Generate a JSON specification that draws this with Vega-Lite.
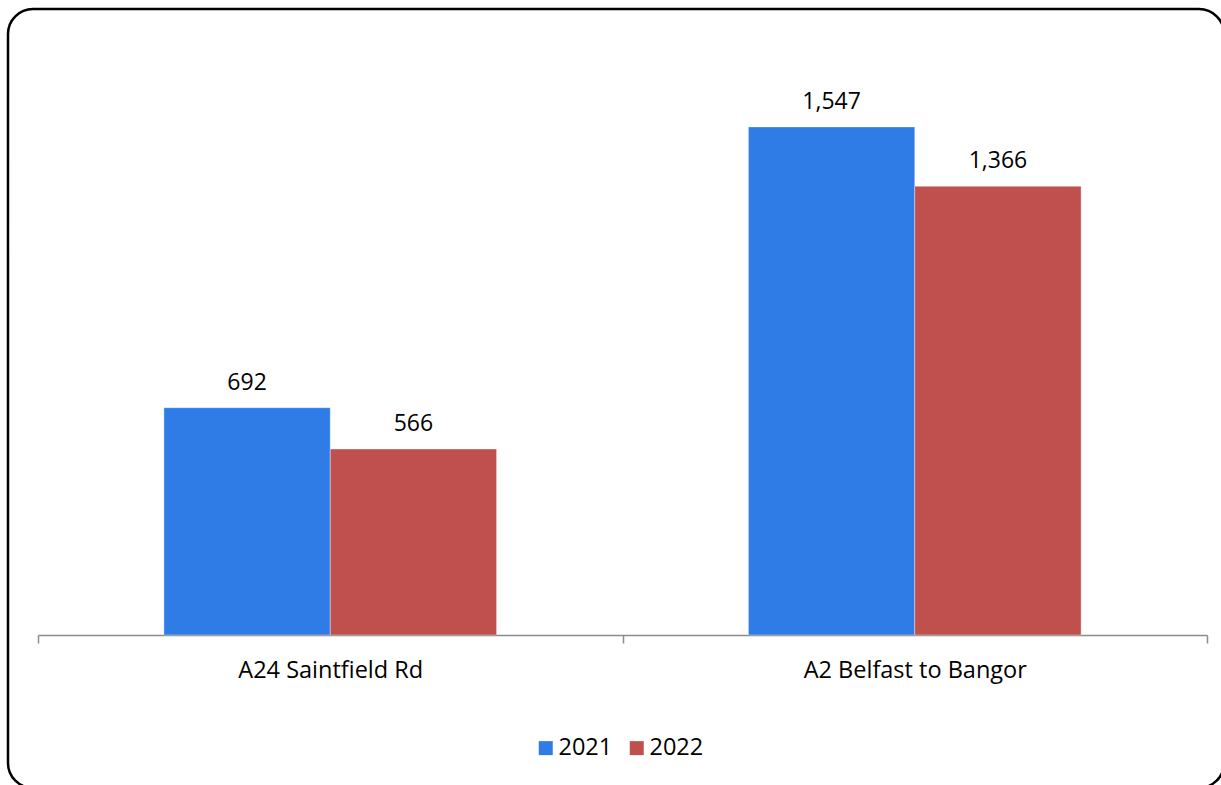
{
  "$schema": "https://vega.github.io/schema/vega-lite/v6.json",
  "autosize": {"type": "none"},
  "padding": {"left": 8, "top": 9, "right": 0, "bottom": 0},
  "width": 1216,
  "height": 779,
  "background": "white",
  "config": {
    "view": {"stroke": "black", "strokeWidth": 2.5, "cornerRadius": 25},
    "font": "Open Sans"
  },
  "data": {
    "values": [
      {"road": "A24 Saintfield Rd", "year": "2021", "value": 692},
      {"road": "A24 Saintfield Rd", "year": "2022", "value": 566},
      {"road": "A2 Belfast to Bangor", "year": "2021", "value": 1547},
      {"road": "A2 Belfast to Bangor", "year": "2022", "value": 1366}
    ]
  },
  "encoding": {
    "x": {
      "field": "road",
      "type": "nominal",
      "sort": null,
      "scale": {"paddingInner": 0, "paddingOuter": 0, "range": [30, 1199]},
      "axis": {
        "title": null,
        "labelAngle": 0,
        "offset": -153,
        "tickBand": "extent",
        "domainColor": "#8c8c8c",
        "domainWidth": 1.5,
        "tickColor": "#8c8c8c",
        "tickWidth": 1.5,
        "tickSize": 8,
        "labelFontSize": 23.5,
        "labelLimit": 0,
        "labelColor": "black",
        "labelPadding": 15,
        "labelFont": "Open Sans"
      }
    },
    "xOffset": {
      "field": "year",
      "type": "nominal",
      "scale": {"paddingInner": 0, "paddingOuter": 0.757}
    },
    "y": {
      "field": "value",
      "type": "quantitative",
      "scale": {"domain": [-466, 1906], "nice": false, "zero": false},
      "axis": null
    }
  },
  "layer": [
    {
      "mark": {"type": "bar", "stroke": "white", "strokeWidth": 0.6, "strokeOpacity": 0.6},
      "encoding": {
        "color": {
          "field": "year",
          "type": "nominal",
          "scale": {"domain": ["2021", "2022"], "range": ["#2F7CE7", "#C0504D"]},
          "legend": {
            "title": null,
            "orient": "none",
            "direction": "horizontal",
            "legendX": 526,
            "legendY": 727,
            "symbolType": "square",
            "symbolSize": 196,
            "symbolStrokeWidth": 0,
            "labelFontSize": 23.5,
            "labelColor": "black",
            "labelFont": "Open Sans",
            "columnPadding": 12,
            "labelOffset": 1,
            "padding": 0
          }
        }
      }
    },
    {
      "mark": {"type": "text", "baseline": "bottom", "dy": -13, "fontSize": 23, "color": "black", "font": "Open Sans"},
      "encoding": {
        "text": {"field": "value", "type": "quantitative", "format": ","}
      }
    }
  ]
}
